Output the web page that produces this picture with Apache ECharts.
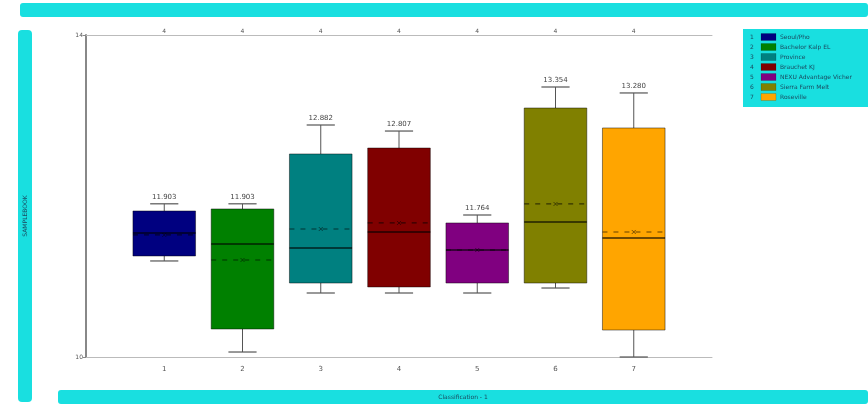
<!DOCTYPE html>
<html>
<head>
<meta charset="utf-8">
<script src="https://cdn.jsdelivr.net/npm/echarts@6/dist/echarts.min.js"></script>
<style>
  html, body { margin: 0; padding: 0; background: #ffffff; }
  #chart { width: 868px; height: 406px; }
</style>
</head>
<body>
<div id="chart"></div>
<script>
// Group identifiers along the x axis
const categories = ['1', '2', '3', '4', '5', '6', '7'];
// Legend entries, one per group
const groupNames = ['Seoul/Pho', 'Bachelor Kalp EL', 'Province', 'Brauchet KJ', 'NEXU Advantage Vicher', 'Sierra Farm Melt', 'Roseville'];
// Box statistics per group
const whiskerLow  = [11.193, 10.062, 10.795, 10.795, 10.795, 10.857, 10.000];
const quartile1   = [11.255, 10.348, 10.919, 10.870, 10.919, 10.919, 10.335];
const medians     = [11.540, 11.404, 11.354, 11.553, 11.329, 11.677, 11.478];
const quartile3   = [11.814, 11.839, 12.522, 12.596, 11.665, 13.093, 12.845];
const whiskerHigh = [11.903, 11.903, 12.882, 12.807, 11.764, 13.354, 13.280];
const means       = [11.516, 11.205, 11.590, 11.665, 11.329, 11.901, 11.553];
// Labels along the top axis
const topLabels = ['4', '4', '4', '4', '4', '4', '4'];
// Y axis range
const yMin = 10, yMax = 14;

const palette = ['#000080', '#008000', '#008080', '#800000', '#800080', '#808000', '#FFA500'];
const cyan = '#19DFE0';

const boxData = categories.map((c, i) => [
  Number(c), whiskerLow[i], quartile1[i], medians[i], quartile3[i], whiskerHigh[i], means[i], i
]);

function renderBox(params, api) {
  const x = api.value(0);
  const idx = api.value(7);
  const pLow = api.coord([x, api.value(1)]);
  const pQ1 = api.coord([x, api.value(2)]);
  const pMed = api.coord([x, api.value(3)]);
  const pQ3 = api.coord([x, api.value(4)]);
  const pHigh = api.coord([x, api.value(5)]);
  const pMean = api.coord([x, api.value(6)]);
  const halfW = api.size([0.8, 0])[0] / 2;
  const capW = api.size([0.36, 0])[0] / 2;
  const cx = pLow[0];
  const line = (x1, y1, x2, y2, style) => ({
    type: 'line', shape: { x1, y1, x2, y2 }, style
  });
  const whiskerStyle = { stroke: '#555', lineWidth: 1 };
  return {
    type: 'group',
    children: [
      line(cx, pHigh[1], cx, pQ3[1], whiskerStyle),
      line(cx, pQ1[1], cx, pLow[1], whiskerStyle),
      line(cx - capW, pHigh[1], cx + capW, pHigh[1], { stroke: '#555', lineWidth: 1.2 }),
      line(cx - capW, pLow[1], cx + capW, pLow[1], { stroke: '#555', lineWidth: 1.2 }),
      {
        type: 'rect',
        shape: { x: cx - halfW, y: pQ3[1], width: halfW * 2, height: pQ1[1] - pQ3[1] },
        style: { fill: palette[idx], stroke: 'rgba(0,0,0,0.45)', lineWidth: 1 }
      },
      line(cx - halfW, pMed[1], cx + halfW, pMed[1], { stroke: 'rgba(0,0,0,0.75)', lineWidth: 1.5 }),
      line(cx - halfW, pMean[1], cx + halfW, pMean[1], { stroke: 'rgba(0,0,0,0.6)', lineWidth: 1.2, lineDash: [5, 6] }),
      line(cx - 2, pMean[1] - 2, cx + 2, pMean[1] + 2, { stroke: 'rgba(0,0,0,0.5)', lineWidth: 1 }),
      line(cx - 2, pMean[1] + 2, cx + 2, pMean[1] - 2, { stroke: 'rgba(0,0,0,0.5)', lineWidth: 1 }),
      {
        type: 'text',
        x: cx, y: pHigh[1] - 3,
        style: {
          text: api.value(5).toFixed(3),
          fill: '#444', font: '7px "DejaVu Sans", sans-serif',
          align: 'center', verticalAlign: 'bottom'
        }
      }
    ]
  };
}

// Legend built as graphic elements
const legendChildren = [
  { type: 'rect', shape: { x: 743, y: 29, width: 125, height: 78 }, style: { fill: cyan } }
];
groupNames.forEach((name, i) => {
  const y = 37 + i * 10;
  legendChildren.push(
    { type: 'text', x: 752, y: y, style: { text: categories[i], fill: '#1a4a60', font: '6px "DejaVu Sans", sans-serif', verticalAlign: 'middle', align: 'center' } },
    { type: 'rect', shape: { x: 761, y: y - 3.5, width: 15, height: 7 }, style: { fill: palette[i], stroke: 'rgba(0,0,0,0.3)', lineWidth: 0.5 } },
    { type: 'text', x: 780, y: y, style: { text: name, fill: '#1a4a60', font: '6px "DejaVu Sans", sans-serif', verticalAlign: 'middle' } }
  );
});

const chart = echarts.init(document.getElementById('chart'));
chart.setOption({
  animation: false,
  backgroundColor: '#ffffff',
  grid: { left: 86, right: 156, top: 35, bottom: 49 },
  xAxis: [
    {
      type: 'value', position: 'bottom', min: 0, max: 8, interval: 1,
      axisLine: { show: true, lineStyle: { color: '#bbb', width: 1 } },
      axisTick: { show: false },
      splitLine: { show: false },
      axisLabel: {
        margin: 9, color: '#555', fontSize: 7, fontFamily: 'DejaVu Sans',
        formatter: v => (v >= 1 && v <= 7 ? categories[v - 1] : '')
      }
    },
    {
      type: 'value', position: 'top', min: 0, max: 8, interval: 1,
      axisLine: { show: true, onZero: false, lineStyle: { color: '#bbb', width: 1 } },
      axisTick: { show: false },
      splitLine: { show: false },
      axisLabel: {
        margin: 1, color: '#555', fontSize: 6, fontFamily: 'DejaVu Sans',
        formatter: v => (v >= 1 && v <= 7 ? topLabels[v - 1] : '')
      }
    }
  ],
  yAxis: {
    type: 'value', min: yMin, max: yMax, interval: 4,
    axisLine: { show: true, lineStyle: { color: '#888', width: 2 } },
    axisTick: { show: true, length: 3, lineStyle: { color: '#888' } },
    splitLine: { show: false },
    axisLabel: { margin: 3, color: '#555', fontSize: 6, fontFamily: 'DejaVu Sans' }
  },
  graphic: [
    { type: 'rect', shape: { x: 20, y: 3, width: 848, height: 14, r: 3 }, style: { fill: cyan } },
    { type: 'rect', shape: { x: 18, y: 30, width: 14, height: 372, r: 4 }, style: { fill: cyan } },
    {
      type: 'text', x: 25, y: 216, rotation: Math.PI / 2,
      style: { text: 'SAMPLEBOOK', fill: '#1a4a60', font: '6px "DejaVu Sans", sans-serif', align: 'center', verticalAlign: 'middle' }
    },
    { type: 'rect', shape: { x: 58, y: 390, width: 810, height: 14, r: 3 }, style: { fill: cyan } },
    {
      type: 'text', x: 463, y: 397,
      style: { text: 'Classification - 1', fill: '#1a4a60', font: '6px "DejaVu Sans", sans-serif', align: 'center', verticalAlign: 'middle' }
    },
    { type: 'group', children: legendChildren }
  ],
  series: [{
    type: 'custom',
    xAxisIndex: 0,
    renderItem: renderBox,
    data: boxData,
    clip: false
  }]
});
</script>
</body>
</html>
